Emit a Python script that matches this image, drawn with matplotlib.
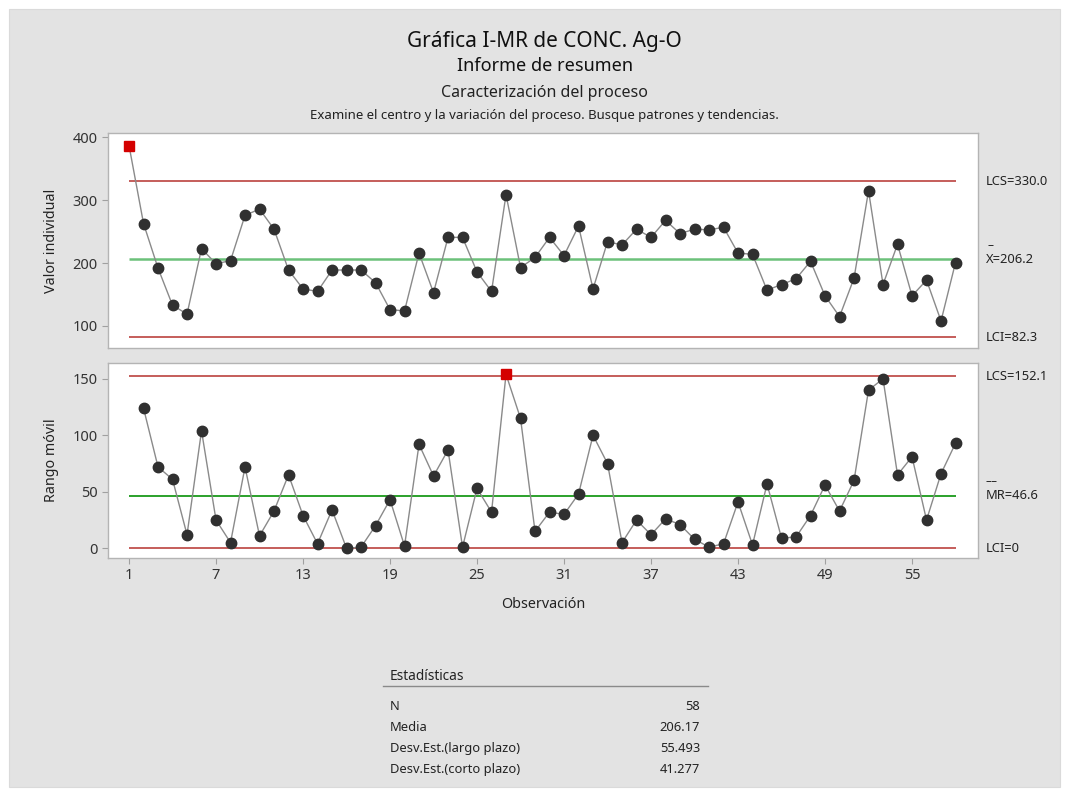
import numpy as np
import matplotlib.pyplot as plt
from matplotlib.patches import Rectangle

plt.rcParams['font.family'] = ['Noto Sans', 'DejaVu Sans']

# datos
obs = np.arange(1, 59)
valor = [387, 263, 192, 133, 119, 223, 199, 204, 276, 286,
         254, 189, 159, 155, 189, 189, 189, 169, 126, 124,
         216, 153, 241, 241, 186, 155, 309, 193, 209, 241,
         212, 259, 159, 234, 229, 254, 241, 268, 247, 254,
         253, 257, 216, 214, 157, 166, 175, 203, 148, 115,
         176, 315, 166, 230, 148, 173, 108, 201]
rango = [124, 72, 61, 12, 104, 25, 5, 72, 11,
         33, 65, 29, 4, 34, 0, 1, 20, 43, 2,
         92, 64, 87, 1, 53, 32, 154, 115, 15, 32,
         30, 48, 100, 75, 5, 25, 12, 26, 21, 8,
         1, 4, 41, 3, 57, 9, 10, 29, 56, 33,
         60, 140, 150, 65, 81, 25, 66, 93]
obs_mr = np.arange(2, 59)

lim_i = {'LCS': 330.0, 'X': 206.2, 'LCI': 82.3}
lim_mr = {'LCS': 152.1, 'MR': 46.6, 'LCI': 0}
fuera_i = [1]      # observaciones fuera de control
fuera_mr = [27]

stats_lab = ['N', 'Media', 'Desv.Est.(largo plazo)', 'Desv.Est.(corto plazo)']
stats_val = ['58', '206.17', '55.493', '41.277']

W, H = 1069, 796
fig = plt.figure(figsize=(W / 100, H / 100), dpi=100)
fig.patch.set_facecolor('white')
fig.add_artist(Rectangle((9 / W, 1 - 787 / H), (1060 - 9) / W, (787 - 9) / H,
                         transform=fig.transFigure, facecolor='#e3e3e3',
                         edgecolor='#dadada', lw=0.8, zorder=-10))

txt = '#222222'
xc = 0.5095
fig.text(xc, 1 - 42 / H, 'Gráfica I-MR de CONC. Ag-O', ha='center', va='center', fontsize=15, color='#111111')
fig.text(xc, 1 - 66 / H, 'Informe de resumen', ha='center', va='center', fontsize=13, color='#111111')
fig.text(xc, 1 - 93 / H, 'Caracterización del proceso', ha='center', va='center', fontsize=11.5, color=txt)
fig.text(xc, 1 - 115 / H, 'Examine el centro y la variación del proceso. Busque patrones y tendencias.',
         ha='center', va='center', fontsize=9.5, color=txt)


def px_axes(l, t, r, b):
    return fig.add_axes([l / W, 1 - b / H, (r - l) / W, (b - t) / H])


ax1 = px_axes(108, 133, 978, 348)
ax2 = px_axes(108, 363, 978, 558)

rojo = '#c0504d'
for ax in (ax1, ax2):
    ax.set_facecolor('white')
    for s in ax.spines.values():
        s.set_color('#b4b4b4')
        s.set_linewidth(1.0)
    ax.tick_params(direction='out', length=4, color='#a0a0a0', labelsize=10.5, labelcolor='#333333')
    ax.set_xlim(-0.45, 59.55)

# grafica de valores individuales
ax1.hlines([lim_i['LCS'], lim_i['LCI']], 1, 58, color=rojo, lw=1.3)
ax1.hlines(lim_i['X'], 1, 58, color='#6cc17a', lw=1.8)
ax1.plot(obs, valor, '-', color='#8a8a8a', lw=1.0, zorder=3)
v = np.array(valor)
m = np.isin(obs, fuera_i)
ax1.plot(obs[~m], v[~m], 'o', color='#303030', ms=7.5, zorder=4)
ax1.plot(obs[m], v[m], 's', color='#d40000', ms=7, zorder=4)
ax1.set_ylim(65, 407)
ax1.set_yticks([100, 200, 300, 400])
ax1.set_xticks([])
ax1.set_ylabel('Valor individual', fontsize=10.3, color=txt)
ax1.yaxis.set_label_coords(-0.056, 0.5)

# grafica de rango movil
ax2.hlines([lim_mr['LCS'], lim_mr['LCI']], 1, 58, color=rojo, lw=1.3)
ax2.hlines(lim_mr['MR'], 1, 58, color='#1a9a1a', lw=1.3)
ax2.plot(obs_mr, rango, '-', color='#8a8a8a', lw=1.0, zorder=3)
r_ = np.array(rango)
m2 = np.isin(obs_mr, fuera_mr)
ax2.plot(obs_mr[~m2], r_[~m2], 'o', color='#303030', ms=7.5, zorder=4)
ax2.plot(obs_mr[m2], r_[m2], 's', color='#d40000', ms=7, zorder=4)
ax2.set_ylim(-8.6, 164)
ax2.set_yticks([0, 50, 100, 150])
ax2.set_xticks(np.arange(1, 59, 6))
ax2.set_xlabel('Observación', fontsize=10.3, color=txt)
ax2.xaxis.set_label_coords(0.5, -0.20)
ax2.set_ylabel('Rango móvil', fontsize=10.3, color=txt)
ax2.yaxis.set_label_coords(-0.056, 0.5)

# etiquetas de limites a la derecha
xl = 986 / W
def etiqueta(ax, y, s):
    p = fig.transFigure.inverted().transform(ax.transData.transform((0, y)))
    fig.text(xl, p[1], s, ha='left', va='center', fontsize=9.3, color=txt)
    return p[1]

etiqueta(ax1, lim_i['LCS'], 'LCS=%.1f' % lim_i['LCS'])
yb = etiqueta(ax1, lim_i['X'], 'X=%.1f' % lim_i['X'])
fig.text(xl + 1 / W, yb + 14 / H, '–', ha='left', va='center', fontsize=8.5, color=txt)
etiqueta(ax1, lim_i['LCI'], 'LCI=%.1f' % lim_i['LCI'])
etiqueta(ax2, lim_mr['LCS'], 'LCS=%.1f' % lim_mr['LCS'])
yb = etiqueta(ax2, lim_mr['MR'], 'MR=%.1f' % lim_mr['MR'])
fig.text(xl, yb + 14 / H, '––', ha='left', va='center', fontsize=8.5, color=txt)
etiqueta(ax2, lim_mr['LCI'], 'LCI=%d' % lim_mr['LCI'])

# tabla de estadisticas
fig.text(390 / W, 1 - 676 / H, 'Estadísticas', ha='left', va='center', fontsize=9.8, color=txt)
fig.add_artist(plt.Line2D([383 / W, 708 / W], [1 - 686 / H, 1 - 686 / H],
                          transform=fig.transFigure, color='#8a8a8a', lw=1.0))
for i, (a, b) in enumerate(zip(stats_lab, stats_val)):
    y = 1 - (706 + i * 21.3) / H
    fig.text(390 / W, y, a, ha='left', va='center', fontsize=9.3, color=txt)
    fig.text(700 / W, y, b, ha='right', va='center', fontsize=9.3, color=txt)

fig.savefig('out.png', dpi=100)
